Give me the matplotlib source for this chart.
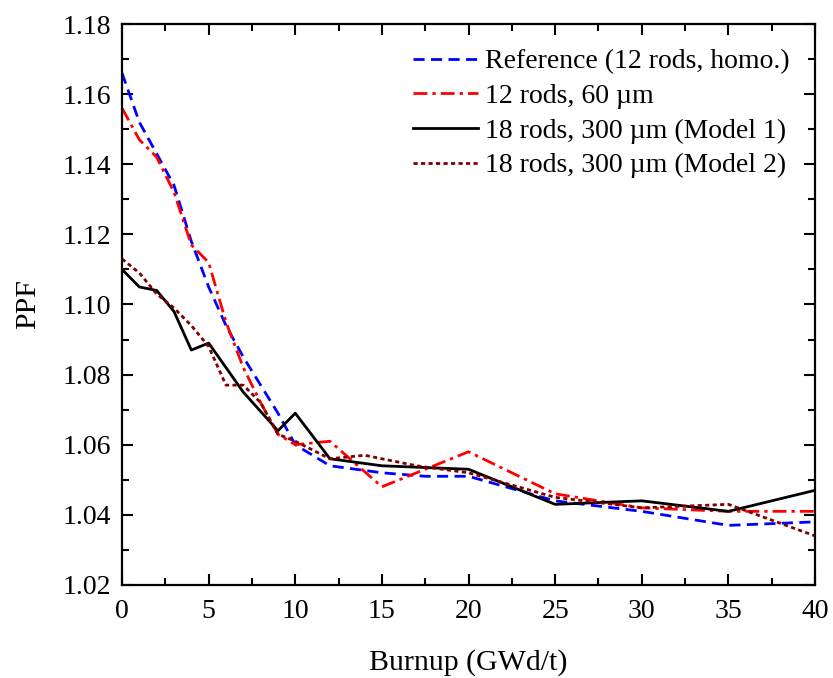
import matplotlib
matplotlib.use("Agg")
import matplotlib.pyplot as plt
from matplotlib.ticker import MultipleLocator

plt.rcParams["font.family"] = ["Liberation Serif", "DejaVu Serif"]

# Reference (12 rods, homo.)
refX = [0, 1, 2, 3, 4, 5, 6, 7, 8, 9, 10, 12, 15, 17.5, 20, 25, 30, 35, 40]
refY = [1.166, 1.152, 1.143, 1.134, 1.118, 1.105, 1.094, 1.085, 1.077, 1.069, 1.060,
        1.054, 1.052, 1.051, 1.051, 1.044, 1.041, 1.037, 1.038]

# 12 rods, 60 um
r60X = [0, 1, 2, 3, 4, 5, 6, 7, 8, 9, 10, 12, 15, 20, 25, 30, 35, 40]
r60Y = [1.156, 1.147, 1.142, 1.132, 1.117, 1.112, 1.095, 1.082, 1.072, 1.063, 1.060,
        1.061, 1.048, 1.058, 1.046, 1.042, 1.041, 1.041]

# 18 rods, 300 um (Model 1)
m1X = [0, 1, 2, 3, 4, 5, 7, 9, 10, 12, 15, 20, 25, 30, 35, 40]
m1Y = [1.110, 1.105, 1.104, 1.098, 1.087, 1.089, 1.075, 1.064, 1.069, 1.056, 1.054,
       1.053, 1.043, 1.044, 1.041, 1.047]

# 18 rods, 300 um (Model 2)
m2X = [0, 1, 2, 3, 4, 5, 6, 7, 8, 9, 10, 12, 14, 17, 20, 25, 30, 35, 40]
m2Y = [1.113, 1.109, 1.103, 1.099, 1.094, 1.088, 1.077, 1.077, 1.072, 1.063, 1.061,
       1.056, 1.057, 1.054, 1.052, 1.045, 1.042, 1.043, 1.034]

labels = ["Reference (12 rods, homo.)", "12 rods, 60 \u00b5m",
          "18 rods, 300 \u00b5m (Model 1)", "18 rods, 300 \u00b5m (Model 2)"]

fig = plt.figure(figsize=(8.33, 6.78), dpi=100)
ax = fig.add_axes([0.1465, 0.1372, 0.8319, 0.8274])

ax.plot(refX, refY, color="#0000ff", linewidth=2, dashes=(4, 2.3), label=labels[0])
ax.plot(r60X, r60Y, color="#ff0000", linewidth=2, dashes=(5, 1.8, 1.2, 1.8), label=labels[1])
ax.plot(m1X, m1Y, color="black", linewidth=2, label=labels[2])
ax.plot(m2X, m2Y, color="#800000", linewidth=2, dashes=(1.5, 1.2), label=labels[3])

ax.set_xlim(0, 40)
ax.set_ylim(1.02, 1.18)
ax.xaxis.set_major_locator(MultipleLocator(5))
ax.xaxis.set_minor_locator(MultipleLocator(2.5))
ax.yaxis.set_major_locator(MultipleLocator(0.02))
ax.yaxis.set_minor_locator(MultipleLocator(0.01))
ax.yaxis.set_major_formatter(plt.FormatStrFormatter("%.2f"))

ax.tick_params(which="both", direction="in", top=True, right=True, labelsize=20, width=1.5)
ax.tick_params(which="major", length=8)
ax.tick_params(which="minor", length=5)
ax.tick_params(axis="x", pad=10)
ax.tick_params(axis="y", pad=8)
for s in ax.spines.values():
	s.set_linewidth(1.6)

ax.set_xlabel("Burnup (GWd/t)", fontsize=21.5, labelpad=18)
ax.set_ylabel("PPF", fontsize=21.5, labelpad=15)

ax.legend(loc="upper right", frameon=False, fontsize=20, handlelength=2.35,
          handletextpad=0.25, labelspacing=0.33, borderaxespad=0.5)

fig.savefig("out.png", dpi=100)
